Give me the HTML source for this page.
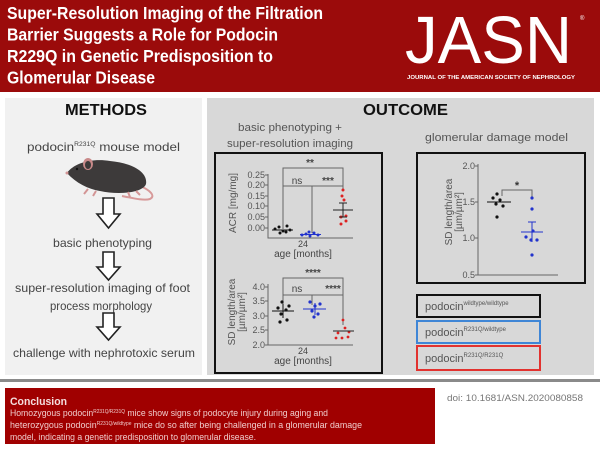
<!DOCTYPE html>
<html><head><meta charset="utf-8"><style>
html,body{margin:0;padding:0;background:#fff;}
svg{display:block;}
text{font-family:"Liberation Sans",Arial,sans-serif;}
</style></head><body>
<svg width="600" height="450" viewBox="0 0 600 450" xmlns="http://www.w3.org/2000/svg">
<!-- Header -->
<rect x="0" y="0" width="600" height="92" fill="#9b0b0b"/>
<g fill="#fff" font-weight="bold" font-size="17.5">
<text x="7" y="19" textLength="316" lengthAdjust="spacingAndGlyphs">Super-Resolution Imaging of the Filtration</text>
<text x="7" y="40.5" textLength="271" lengthAdjust="spacingAndGlyphs">Barrier Suggests a Role for Podocin</text>
<text x="7" y="62" textLength="266" lengthAdjust="spacingAndGlyphs">R229Q in Genetic Predisposition to</text>
<text x="7" y="83.5" textLength="148" lengthAdjust="spacingAndGlyphs">Glomerular Disease</text>
</g>
<text x="405" y="63" fill="#fff" font-size="67" textLength="167" lengthAdjust="spacingAndGlyphs">JASN</text>
<text x="580" y="20" fill="#fff" font-size="6">®</text>
<text x="407" y="79" fill="#fff" font-size="5.2" font-weight="bold" textLength="168" lengthAdjust="spacingAndGlyphs">JOURNAL OF THE AMERICAN SOCIETY OF NEPHROLOGY</text>

<!-- Panels -->
<rect x="5" y="98" width="197" height="277" fill="#f1f1f1"/>
<rect x="207" y="98" width="387" height="277" fill="#d8d8d8"/>

<!-- METHODS -->
<text x="65" y="115" font-size="16" font-weight="bold" fill="#111" textLength="82" lengthAdjust="spacingAndGlyphs">METHODS</text>
<g fill="#444" font-size="12">
<text x="27" y="151" textLength="153" lengthAdjust="spacingAndGlyphs">podocin<tspan font-size="6" dy="-5">R231Q</tspan><tspan dy="5"> mouse model</tspan></text>
<text x="53" y="247" textLength="99" lengthAdjust="spacingAndGlyphs">basic phenotyping</text>
<text x="15" y="292" textLength="175" lengthAdjust="spacingAndGlyphs">super-resolution  imaging of foot</text>
<text x="50" y="310" textLength="102" lengthAdjust="spacingAndGlyphs">process morphology</text>
<text x="13" y="357" textLength="182" lengthAdjust="spacingAndGlyphs">challenge with nephrotoxic serum</text>
</g>
<!-- Mouse -->
<g>
<path d="M140,186 C150,190 156,196 150,199 C144,201 132,198 122,196" fill="none" stroke="#d79a9a" stroke-width="2"/>
<path d="M67,173 C74,163 92,158 110,161 C132,163 148,172 146,184 C143,193 118,195 100,191 C88,189 76,183 67,173 Z" fill="#3d3a3a"/>
<ellipse cx="88" cy="164" rx="5" ry="6" fill="#c98a8a"/>
<ellipse cx="88" cy="165" rx="3" ry="4" fill="#3d3a3a"/>
<circle cx="77" cy="169" r="1.2" fill="#111"/>
<path d="M88,189 l-4,5 M96,191 l-3,5 M128,192 l2,5 M136,191 l4,4" stroke="#d39595" stroke-width="2" fill="none"/>
<circle cx="67" cy="173" r="1.5" fill="#d39595"/>
</g>
<!-- Arrows -->
<g fill="#fff" stroke="#222" stroke-width="1.6">
<path d="M103,198 H114 V214 H120 L108.5,228 L97,214 H103 Z"/>
<path d="M103,252 H114 V267 H120 L108.5,280 L97,267 H103 Z"/>
<path d="M103,313 H114 V327 H120 L108.5,340 L97,327 H103 Z"/>
</g>

<!-- OUTCOME -->
<text x="363" y="115" font-size="16" font-weight="bold" fill="#111" textLength="85" lengthAdjust="spacingAndGlyphs">OUTCOME</text>
<g fill="#555" font-size="11">
<text x="238" y="131" textLength="104" lengthAdjust="spacingAndGlyphs">basic phenotyping +</text>
<text x="227" y="147" textLength="126" lengthAdjust="spacingAndGlyphs">super-resolution  imaging</text>
<text x="425" y="141" textLength="143" lengthAdjust="spacingAndGlyphs">glomerular damage model</text>
</g>

<!-- Left chart box -->
<rect x="215" y="153" width="167" height="220" fill="none" stroke="#111" stroke-width="2"/>
<g stroke="#666" stroke-width="1" fill="none">
<path d="M268,174 V238 H353"/>
<path d="M265,175 H268 M265,185 H268 M265,196 H268 M265,206 H268 M265,217 H268 M265,228 H268"/>
<path d="M283,229 V168 H343 V190"/>
<path d="M283,186 H343 M312,186 V233"/>
<path d="M268,284 V345 H353"/>
<path d="M265,287 H268 M265,301 H268 M265,316 H268 M265,330 H268 M265,345 H268"/>
<path d="M283,305 V278 H343 V325"/>
<path d="M283,295 H343 M312,295 V305"/>
</g>
<g fill="#555" font-size="9" text-anchor="end">
<text x="265" y="178">0.25</text>
<text x="265" y="188">0.20</text>
<text x="265" y="199">0.15</text>
<text x="265" y="209">0.10</text>
<text x="265" y="220">0.05</text>
<text x="265" y="231">0.00</text>
<text x="265" y="290">4.0</text>
<text x="265" y="304">3.5</text>
<text x="265" y="319">3.0</text>
<text x="265" y="333">2.5</text>
<text x="265" y="348">2.0</text>
</g>
<g fill="#444" font-size="10" text-anchor="middle">
<text x="310" y="166" font-weight="bold">**</text>
<text x="297" y="184">ns</text>
<text x="328" y="184" font-weight="bold">***</text>
<text x="313" y="276" font-weight="bold">****</text>
<text x="297" y="292">ns</text>
<text x="333" y="292" font-weight="bold">****</text>
<text x="303" y="247" font-size="9">24</text>
<text x="303" y="257" font-size="10">age [months]</text>
<text x="303" y="354" font-size="9">24</text>
<text x="303" y="364" font-size="10">age [months]</text>
</g>
<g fill="#555" font-size="10" text-anchor="middle">
<text transform="translate(236,203) rotate(-90)">ACR [mg/mg]</text>
<text transform="translate(235,312) rotate(-90)">SD length/area</text>
<text transform="translate(245,312) rotate(-90)">[µm/µm²]</text>
</g>
<g fill="#111">
<circle cx="275" cy="229" r="1.5"/><circle cx="279" cy="227" r="1.5"/><circle cx="283" cy="231" r="1.5"/>
<circle cx="287" cy="226" r="1.5"/><circle cx="290" cy="230" r="1.5"/><circle cx="280" cy="233" r="1.5"/><circle cx="286" cy="232" r="1.5"/>
</g>
<path d="M272,230 H293" stroke="#111" stroke-width="1"/>
<g fill="#2233cc">
<circle cx="302" cy="235" r="1.5"/><circle cx="306" cy="234" r="1.5"/><circle cx="310" cy="236" r="1.5"/>
<circle cx="314" cy="233" r="1.5"/><circle cx="318" cy="235" r="1.5"/><circle cx="309" cy="232" r="1.5"/>
</g>
<path d="M300,234.5 H321" stroke="#2233cc" stroke-width="1"/>
<g fill="#dd2222">
<circle cx="343" cy="190" r="1.5"/><circle cx="342" cy="196" r="1.5"/><circle cx="344" cy="200" r="1.5"/>
<circle cx="341" cy="217" r="1.5"/><circle cx="346" cy="221" r="1.5"/><circle cx="341" cy="224" r="1.5"/><circle cx="346" cy="216" r="1.5"/>
</g>
<path d="M333,210 H353 M343,203 V217 M339,203 H347 M339,217 H347" stroke="#222" stroke-width="1"/>
<g fill="#111">
<circle cx="282" cy="302" r="1.6"/><circle cx="278" cy="308" r="1.6"/><circle cx="286" cy="310" r="1.6"/>
<circle cx="281" cy="314" r="1.6"/><circle cx="289" cy="306" r="1.6"/><circle cx="280" cy="322" r="1.6"/><circle cx="287" cy="320" r="1.6"/>
</g>
<path d="M272,311 H294 M283,304 V318" stroke="#111" stroke-width="1"/>
<g fill="#2233cc">
<circle cx="310" cy="302" r="1.6"/><circle cx="315" cy="306" r="1.6"/><circle cx="320" cy="304" r="1.6"/>
<circle cx="312" cy="311" r="1.6"/><circle cx="318" cy="314" r="1.6"/><circle cx="314" cy="317" r="1.6"/>
</g>
<path d="M303,309 H326 M315,303 V315" stroke="#2233cc" stroke-width="1"/>
<g fill="#dd2222">
<circle cx="343" cy="320" r="1.4"/><circle cx="338" cy="333" r="1.4"/><circle cx="345" cy="328" r="1.4"/>
<circle cx="349" cy="332" r="1.4"/><circle cx="336" cy="338" r="1.4"/><circle cx="342" cy="338" r="1.4"/><circle cx="348" cy="337" r="1.4"/>
</g>
<path d="M333,331 H354" stroke="#222" stroke-width="1"/>

<!-- Right chart box -->
<rect x="417" y="153" width="168" height="130" fill="none" stroke="#111" stroke-width="2"/>
<g stroke="#666" stroke-width="1" fill="none">
<path d="M478,164 V275 H558"/>
<path d="M475,166 H478 M475,202 H478 M475,238 H478 M475,275 H478"/>
<path d="M502,196 V190 H532 V198"/>
</g>
<g fill="#555" font-size="9" text-anchor="end">
<text x="475" y="169">2.0</text>
<text x="475" y="205">1.5</text>
<text x="475" y="241">1.0</text>
<text x="475" y="278">0.5</text>
</g>
<g fill="#555" font-size="10" text-anchor="middle">
<text transform="translate(452,212) rotate(-90)">SD length/area</text>
<text transform="translate(462,212) rotate(-90)">[µm/µm²]</text>
</g>
<text x="517" y="189" fill="#333" font-size="11" font-weight="bold" text-anchor="middle">*</text>
<g fill="#111">
<circle cx="497" cy="194" r="1.6"/><circle cx="493" cy="198" r="1.6"/><circle cx="500" cy="200" r="1.6"/>
<circle cx="496" cy="204" r="1.6"/><circle cx="503" cy="206" r="1.6"/><circle cx="497" cy="217" r="1.6"/>
</g>
<path d="M487,202 H511" stroke="#111" stroke-width="1"/>
<g fill="#2233cc">
<circle cx="532" cy="198" r="1.6"/><circle cx="532" cy="209" r="1.6"/><circle cx="526" cy="237" r="1.6"/>
<circle cx="531" cy="240" r="1.6"/><circle cx="537" cy="240" r="1.6"/><circle cx="533" cy="231" r="1.6"/><circle cx="532" cy="255" r="1.6"/>
</g>
<path d="M521,232 H543 M532,222 V242 M528,222 H536" stroke="#2233cc" stroke-width="1"/>

<!-- Legend -->
<rect x="417" y="295" width="123" height="22" fill="none" stroke="#111" stroke-width="2"/>
<rect x="417" y="321" width="123" height="22" fill="none" stroke="#3f86d6" stroke-width="2"/>
<rect x="417" y="346" width="123" height="24" fill="none" stroke="#e2322f" stroke-width="2"/>
<g fill="#555" font-size="11">
<text x="425" y="310">podocin<tspan font-size="6" dy="-5">wildtype/wildtype</tspan></text>
<text x="425" y="336">podocin<tspan font-size="6" dy="-5">R231Q/wildtype</tspan></text>
<text x="425" y="362">podocin<tspan font-size="6" dy="-5">R231Q/R231Q</tspan></text>
</g>

<!-- Separator -->
<rect x="0" y="379" width="600" height="3" fill="#8a8a8a"/>

<!-- Conclusion -->
<rect x="5" y="388" width="430" height="56" fill="#a00000"/>
<text x="10" y="405" fill="#f4dede" font-size="11" font-weight="bold" textLength="57" lengthAdjust="spacingAndGlyphs">Conclusion</text>
<g fill="#f0cccc" font-size="9">
<text x="10" y="416" textLength="318" lengthAdjust="spacingAndGlyphs">Homozygous  podocin<tspan font-size="5" dy="-3">R231Q/R231Q</tspan><tspan dy="3"> mice show signs of podocyte injury  during aging and</tspan></text>
<text x="10" y="428" textLength="352" lengthAdjust="spacingAndGlyphs">heterozygous  podocin<tspan font-size="5" dy="-3">R231Q/wildtype</tspan><tspan dy="3"> mice do so after being challenged  in a glomerular  damage</tspan></text>
<text x="10" y="440" textLength="246" lengthAdjust="spacingAndGlyphs">model, indicating a genetic predisposition to glomerular disease.</text>
</g>
<text x="447" y="401" fill="#777" font-size="9" textLength="136" lengthAdjust="spacingAndGlyphs">doi: 10.1681/ASN.2020080858</text>
</svg>
</body></html>
